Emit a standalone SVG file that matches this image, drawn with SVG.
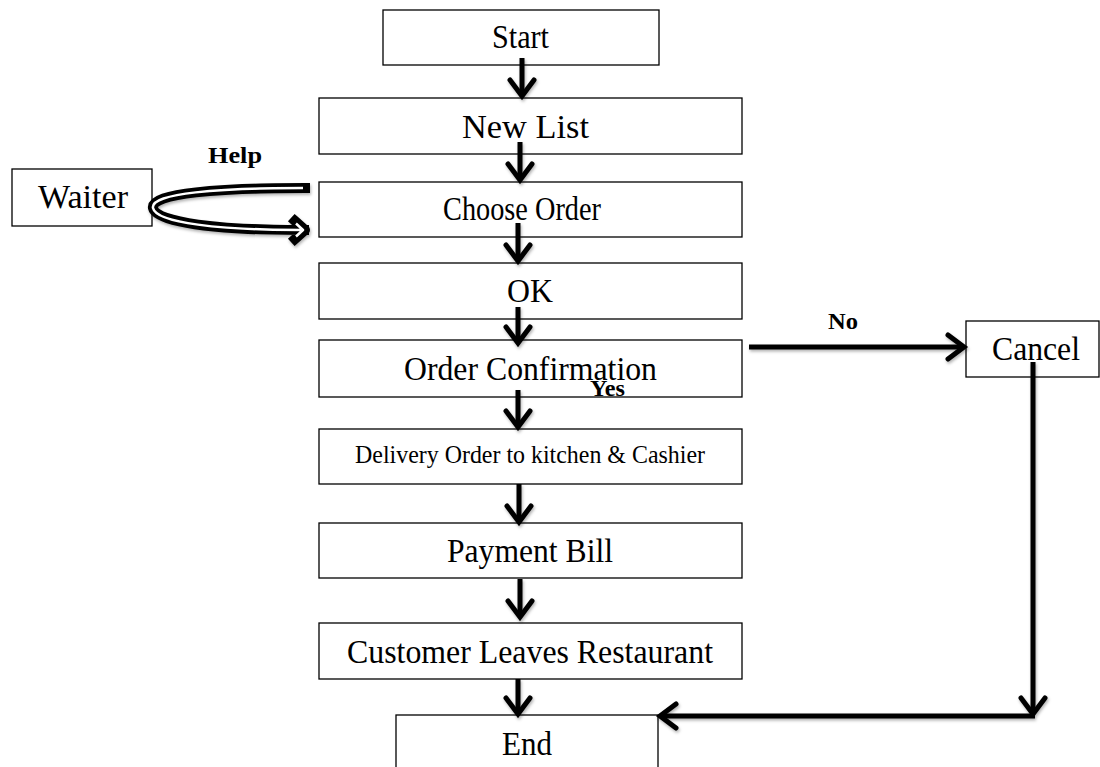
<svg xmlns="http://www.w3.org/2000/svg" width="1100" height="767" viewBox="0 0 1100 767">
<style>
.box{fill:#fff;stroke:#000;stroke-width:1.3}
.t{font-family:"Liberation Serif","Times New Roman",serif;font-size:34px;fill:#000}
.s{font-family:"Liberation Serif","Times New Roman",serif;font-size:26px;fill:#000}
.b{font-family:"Liberation Serif","Times New Roman",serif;font-size:23px;font-weight:bold;fill:#000}
.c{fill:none;stroke:#000;stroke-width:5;marker-end:url(#ah)}
</style>
<defs>
<marker id="ah" markerUnits="userSpaceOnUse" markerWidth="40" markerHeight="40" viewBox="-20 -20 40 40" refX="0" refY="0" orient="auto" overflow="visible">
<path d="M-16,-12 L0,0 L-16,12" fill="none" stroke="#000" stroke-width="5" stroke-linecap="round" stroke-linejoin="miter"/>
</marker>
<filter id="sh" x="-20%" y="-20%" width="140%" height="140%">
<feDropShadow dx="1" dy="2" stdDeviation="1.5" flood-color="#000" flood-opacity="0.3"/>
</filter>
</defs>
<rect width="1100" height="767" fill="#fff"/>

<g id="start"><rect class="box" x="383" y="10" width="276" height="55"/><text class="t" x="492" y="48" textLength="57" lengthAdjust="spacingAndGlyphs">Start</text></g>
<g id="newlist"><rect class="box" x="319" y="98" width="423" height="56"/><text class="t" x="462" y="138" textLength="127" lengthAdjust="spacingAndGlyphs">New List</text></g>
<g id="choose"><rect class="box" x="319" y="182" width="423" height="55"/><text class="t" x="443" y="220" textLength="158" lengthAdjust="spacingAndGlyphs">Choose Order</text></g>
<g id="ok"><rect class="box" x="319" y="263" width="423" height="56"/><text class="t" x="507" y="302" textLength="46" lengthAdjust="spacingAndGlyphs">OK</text></g>
<g id="confirm"><rect class="box" x="319" y="340" width="423" height="57"/><text class="t" x="404" y="380" textLength="253" lengthAdjust="spacingAndGlyphs">Order Confirmation</text></g>
<g id="delivery"><rect class="box" x="319" y="429" width="423" height="55"/><text class="s" x="355" y="463" textLength="350" lengthAdjust="spacingAndGlyphs">Delivery Order to kitchen &amp; Cashier</text></g>
<g id="payment"><rect class="box" x="319" y="523" width="423" height="55"/><text class="t" x="447" y="562" textLength="166" lengthAdjust="spacingAndGlyphs">Payment Bill</text></g>
<g id="customer"><rect class="box" x="319" y="623" width="423" height="56"/><text class="t" x="347" y="663" textLength="366" lengthAdjust="spacingAndGlyphs">Customer Leaves Restaurant</text></g>
<g id="end"><rect class="box" x="396" y="715" width="262" height="70"/><text class="t" x="502" y="755" textLength="50" lengthAdjust="spacingAndGlyphs">End</text></g>
<g id="waiter"><rect class="box" x="12" y="169" width="140" height="57"/><text class="t" x="38" y="208" textLength="90" lengthAdjust="spacingAndGlyphs">Waiter</text></g>
<g id="cancel"><rect class="box" x="966" y="321" width="133" height="56"/><text class="t" x="992" y="360" textLength="88" lengthAdjust="spacingAndGlyphs">Cancel</text></g>

<g id="connectors" filter="url(#sh)">
<line class="c" x1="522" y1="58" x2="522" y2="96"/>
<line class="c" x1="520" y1="142" x2="520" y2="180"/>
<line class="c" x1="518" y1="223" x2="518" y2="261"/>
<line class="c" x1="518" y1="307" x2="518" y2="343"/>
<line class="c" x1="518" y1="390" x2="518" y2="427"/>
<line class="c" x1="519" y1="484" x2="519" y2="522"/>
<line class="c" x1="520" y1="579" x2="520" y2="617"/>
<line class="c" x1="518" y1="679" x2="518" y2="714"/>
<line class="c" x1="749" y1="347" x2="964" y2="347"/>
<line class="c" x1="1033" y1="362" x2="1033" y2="714"/>
<line class="c" x1="1035" y1="716" x2="660" y2="716"/>
<g id="help-arrow">
<path d="M305,188 C220,188 150,193 153,208 C156,223 220,230 304,230 M295,221 L305,230 L295,239" fill="none" stroke="#000" stroke-width="10" stroke-linejoin="round" stroke-linecap="square"/>
<path d="M303,188 C220,188 150,193 153,208 C156,223 220,230 302,230 M296,223.5 L303,230 L296,236.5" fill="none" stroke="#fff" stroke-width="2.5" stroke-linejoin="round" stroke-linecap="butt"/>
</g>
</g>

<text class="b" x="208" y="163" textLength="54" lengthAdjust="spacingAndGlyphs">Help</text>
<text class="b" x="828" y="329" textLength="30" lengthAdjust="spacingAndGlyphs">No</text>
<text class="b" x="590" y="396" textLength="35" lengthAdjust="spacingAndGlyphs">Yes</text>
</svg>
